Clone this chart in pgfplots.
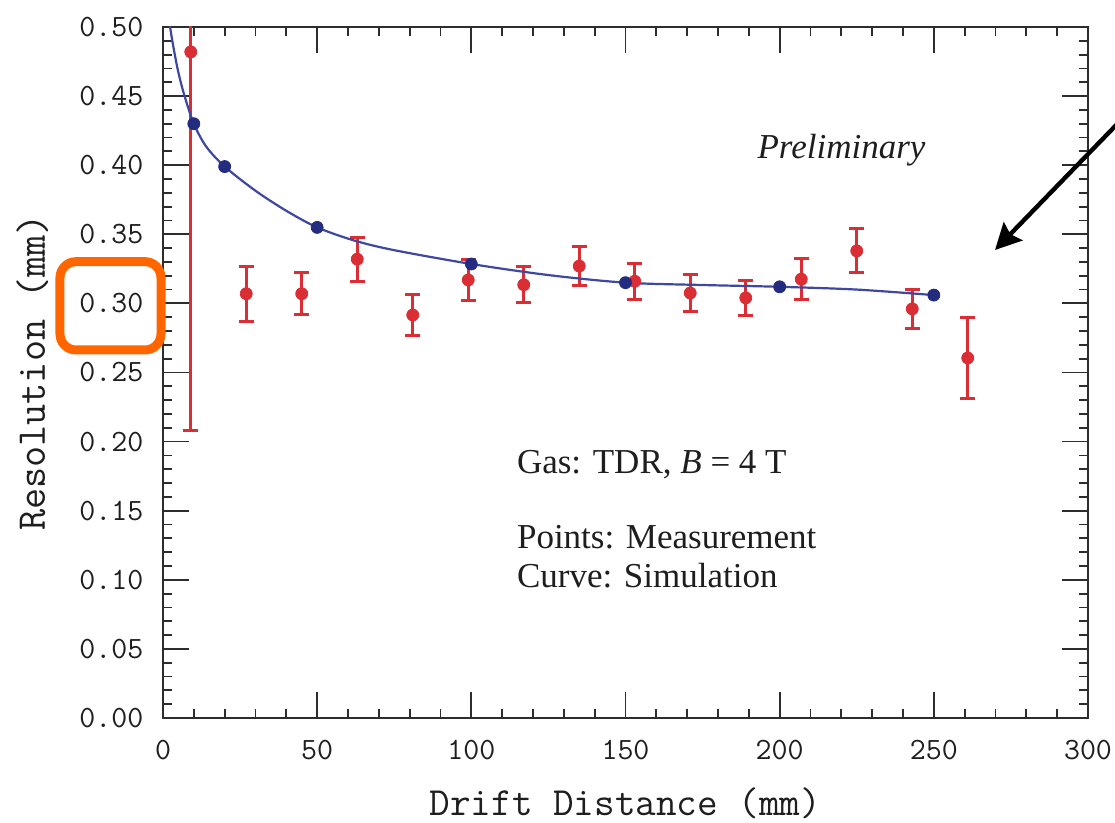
\documentclass[border=0pt]{standalone}
\usepackage{fontspec}
\setmainfont{Liberation Serif}
\usepackage{pgfplots}
\pgfplotsset{compat=1.18}
\usetikzlibrary{arrows.meta}

\definecolor{measred}{RGB}{218,45,52}
\definecolor{simblue}{RGB}{36,44,128}
\definecolor{simline}{RGB}{62,72,160}
\definecolor{hilite}{RGB}{255,102,0}
\definecolor{framegray}{RGB}{45,45,45}
\definecolor{txt}{RGB}{30,30,30}

% measured resolution with its uncertainty
\pgfplotstableread{
x    y      e
9    0.482  0.274
27   0.307  0.020
45   0.307  0.015
63   0.332  0.016
81   0.2916 0.015
99   0.317  0.015
117  0.3135 0.013
135  0.327  0.014
153  0.316  0.013
171  0.3075 0.0135
189  0.304  0.0127
207  0.3175 0.015
225  0.338  0.016
243  0.296  0.014
261  0.2605 0.029
}\measured

\begin{document}
\begin{tikzpicture}
\begin{axis}[
  at={(0,0)}, anchor=south west,
  scale only axis, width=462.5pt, height=345.5pt,
  xmin=0, xmax=300, ymin=0, ymax=0.5,
  xtick={0,50,100,150,200,250,300},
  ytick={0,0.05,0.1,0.15,0.2,0.25,0.3,0.35,0.4,0.45,0.5},
  minor x tick num=4, minor y tick num=4,
  tick align=inside, xtick pos=both, ytick pos=both,
  xticklabel pos=lower, yticklabel pos=left,
  major tick length=13pt, minor tick length=4.5pt,
  every tick/.style={framegray, line width=0.9pt},
  axis line style={framegray, line width=1.3pt},
  /pgf/number format/assume math mode=true,
  tick label style={font=\fontsize{15.5}{18}\selectfont\ttfamily, text=txt},
  xticklabel style={yshift=-7.35pt},
  yticklabel style={/pgf/number format/fixed, /pgf/number format/fixed zerofill,
    /pgf/number format/precision=2, xshift=-6.3pt},
  xlabel={Drift Distance (mm)},
  ylabel={Resolution (mm)},
  xlabel style={at={(axis description cs:0.5,-0.1404)}, anchor=base,
    font=\fontsize{20}{24}\selectfont\ttfamily, text=txt},
  ylabel style={at={(axis description cs:-0.1276,0.5)}, anchor=base,
    font=\fontsize{20.5}{24}\selectfont\ttfamily, text=txt},
]
% measurement points
\addplot[measred, only marks, mark=*, mark size=3pt,
  error bars/.cd, y dir=both, y explicit,
  error bar style={line width=1.5pt, measred},
  error mark options={rotate=90, line width=1.5pt, mark size=3.75pt, measred}]
  table[x=x, y=y, y error=e] {\measured};

% simulation curve
\addplot[simline, line width=1.1pt, smooth] coordinates {
  (1.6,0.512) (2.3,0.500) (3.5,0.484) (5,0.467) (7,0.450) (10,0.430)
  (14,0.4135) (20,0.399) (30,0.3815) (40,0.367) (50,0.355) (62,0.3455)
  (75,0.3385) (100,0.3285) (125,0.3205) (150,0.315)
  (175,0.3133) (200,0.312) (225,0.310) (250,0.306)
};
% simulated points
\addplot[simblue, only marks, mark=*, mark size=3pt] coordinates {
  (10,0.430) (20,0.399) (50,0.355) (100,0.3285) (150,0.315) (200,0.312) (250,0.306)
};

\node[anchor=base west, inner sep=0, text=txt,
  font=\fontsize{17.5}{21}\selectfont\itshape] at (axis cs:192.7,0.4045) {Preliminary};
\node[anchor=base west, inner sep=0, text=txt,
  font=\fontsize{17.5}{21}\selectfont] at (axis cs:114.7,0.1766) {Gas: TDR, \textit{B} = 4 T};
\node[anchor=base west, inner sep=0, text=txt,
  font=\fontsize{17.5}{21}\selectfont] at (axis cs:114.7,0.1223) {Points: Measurement};
\node[anchor=base west, inner sep=0, text=txt,
  font=\fontsize{17.5}{21}\selectfont] at (axis cs:114.7,0.0941) {Curve: Simulation};
\end{axis}

% highlight around the 0.30 tick label
\draw[hilite, line width=4.5pt, rounded corners=8pt] (-51.5pt,184pt) rectangle (-1pt,228.15pt);
% pointer arrow
\draw[black, line width=2.2pt, -{Stealth[length=13pt, width=13pt, inset=2pt]}]
  (481pt,301pt) -- (416pt,234pt);

\pgfresetboundingbox
\useasboundingbox (-81.5pt,-52.5pt) rectangle (476pt,359pt);
\end{tikzpicture}
\end{document}
